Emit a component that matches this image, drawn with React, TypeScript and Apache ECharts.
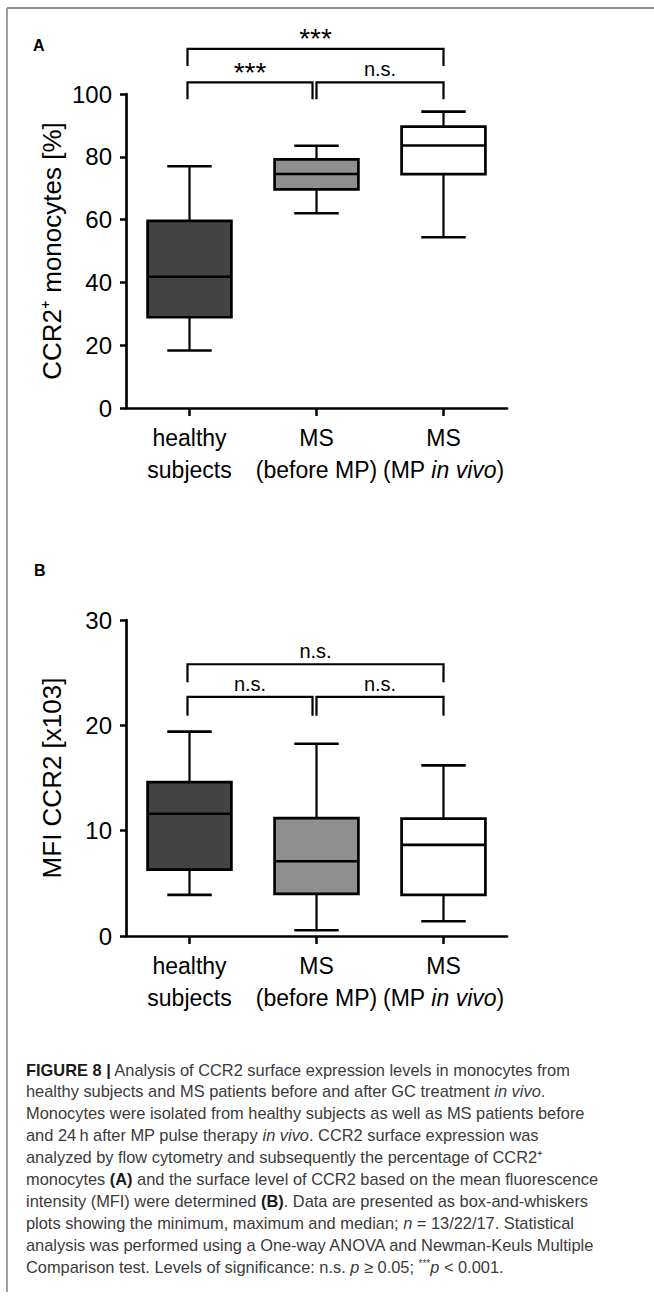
import React, { useEffect, useRef } from "react";
import * as echarts from "echarts";

// ---------- data ----------
const categories = ["healthy\nsubjects", "MS\n(before MP)", "MS\n(MP {i|in vivo})"];
const boxFills = ["#434343", "#8f8f8f", "#ffffff"];

// [min, Q1, median, Q3, max]
const pctHealthy = [18.3, 28.9, 41.8, 59.6, 77.0];
const pctBeforeMP = [62.0, 69.6, 74.5, 79.2, 83.5];
const pctMPinVivo = [54.4, 74.5, 83.6, 89.6, 94.4];

const mfiHealthy = [3.9, 6.3, 11.6, 14.6, 19.4];
const mfiBeforeMP = [0.55, 4.0, 7.1, 11.2, 18.25];
const mfiMPinVivo = [1.4, 3.9, 8.65, 11.15, 16.2];

const pctTicks = { min: 0, max: 100, interval: 20 };
const mfiTicks = { min: 0, max: 30, interval: 10 };

// brackets: [fromCategory, toCategory, barLevel, footLevel]
const pctBrackets = [
  [0, 1, 103.7, 98.3],
  [1, 2, 103.7, 98.3],
  [0, 2, 114.4, 108.9],
];
const pctBracketLabels = ["***", "n.s.", "***"];
const mfiBrackets = [
  [0, 1, 22.7, 20.9],
  [1, 2, 22.7, 20.9],
  [0, 2, 25.8, 24.1],
];
const mfiBracketLabels = ["n.s.", "n.s.", "n.s."];

const captionLines = [
  "{b|FIGURE 8 |} Analysis of CCR2 surface expression levels in monocytes from",
  "healthy subjects and MS patients before and after GC treatment {i|in vivo}.",
  "Monocytes were isolated from healthy subjects as well as MS patients before",
  "and 24\u2009h after MP pulse therapy {i|in vivo}. CCR2 surface expression was",
  "analyzed by flow cytometry and subsequently the percentage of CCR2\u207A",
  "monocytes {b|(A)} and the surface level of CCR2 based on the mean fluorescence",
  "intensity (MFI) were determined {b|(B)}. Data are presented as box-and-whiskers",
  "plots showing the minimum, maximum and median; {i|n} = 13/22/17. Statistical",
  "analysis was performed using a One-way ANOVA and Newman-Keuls Multiple",
  "Comparison test. Levels of significance: n.s. {i|p} \u2265 0.05; {s|***}{i|p} < 0.001.",
];

// ---------- styling ----------
const FONT = "'Liberation Sans', Arial, sans-serif";
const CAP_SIZE = 16.4;

function boxRender(fills: string[]) {
  return (params: any, api: any) => {
    const i = api.value(0);
    const c = (v: number) => api.coord([i, v]);
    const [cx, yMin] = c(api.value(1));
    const yQ1 = c(api.value(2))[1];
    const yMed = c(api.value(3))[1];
    const yQ3 = c(api.value(4))[1];
    const yMax = c(api.value(5))[1];
    const band = api.size([1, 0])[0];
    const bw = band * 0.66;
    const cw = band * 0.35;
    const ln = { stroke: "#000", lineWidth: 2.6 };
    return {
      type: "group",
      children: [
        { type: "line", shape: { x1: cx, y1: yQ3, x2: cx, y2: yMax }, style: { stroke: "#000", lineWidth: 2.2 } },
        { type: "line", shape: { x1: cx, y1: yQ1, x2: cx, y2: yMin }, style: { stroke: "#000", lineWidth: 2.2 } },
        { type: "line", shape: { x1: cx - cw / 2, y1: yMax, x2: cx + cw / 2, y2: yMax }, style: ln },
        { type: "line", shape: { x1: cx - cw / 2, y1: yMin, x2: cx + cw / 2, y2: yMin }, style: ln },
        {
          type: "rect",
          shape: { x: cx - bw / 2, y: yQ3, width: bw, height: yQ1 - yQ3 },
          style: { fill: fills[params.dataIndex], stroke: "#000", lineWidth: 2.7 },
        },
        { type: "line", shape: { x1: cx - bw / 2, y1: yMed, x2: cx + bw / 2, y2: yMed }, style: ln },
      ],
    };
  };
}

function bracketRender(labels: string[]) {
  return (params: any, api: any) => {
    const i0 = api.value(0);
    const i1 = api.value(1);
    const yTop = api.coord([i0, api.value(2)])[1];
    const yFoot = api.coord([i0, api.value(3)])[1];
    let x0 = api.coord([i0, 0])[0];
    let x1 = api.coord([i1, 0])[0];
    if (i0 === 0) x0 -= 2;
    if (i1 === 1) x1 -= 4;
    const label = labels[params.dataIndex];
    const star = label === "***";
    return {
      type: "group",
      children: [
        {
          type: "polyline",
          shape: { points: [[x0, yFoot], [x0, yTop], [x1, yTop], [x1, yFoot]] },
          style: { stroke: "#000", lineWidth: 2.2, fill: null },
        },
        {
          type: "text",
          style: {
            text: label,
            x: (x0 + x1) / 2,
            y: star ? yTop - 10 : yTop - 13,
            align: "center",
            verticalAlign: "middle",
            fontSize: star ? 28 : 20,
            fontFamily: FONT,
            fill: "#000",
          },
        },
      ],
    };
  };
}

function boxData(groups: number[][]) {
  return groups.map((g, i) => [i, ...g]);
}

export default function App() {
  const ref = useRef<HTMLDivElement>(null);
  useEffect(() => {
    if (!ref.current) return;
    const chart = echarts.init(ref.current, undefined, { renderer: "svg" });

    const xAxisBase = (gridIndex: number) => ({
      type: "category",
      gridIndex,
      data: categories,
      boundaryGap: true,
      axisLine: { show: true, lineStyle: { color: "#000", width: 2.7 } },
      axisTick: { show: true, alignWithLabel: true, length: 8, lineStyle: { color: "#000", width: 2.5 } },
      axisLabel: {
        interval: 0,
        color: "#000",
        fontSize: 23,
        lineHeight: 32,
        margin: 14,
        fontFamily: FONT,
        rich: { i: { fontStyle: "italic", fontSize: 23, lineHeight: 32, fontFamily: FONT, color: "#000" } },
      },
      splitLine: { show: false },
    });

    const yAxisBase = (gridIndex: number, ticks: any, name: string) => ({
      type: "value",
      gridIndex,
      min: ticks.min,
      max: ticks.max,
      interval: ticks.interval,
      name,
      nameLocation: "middle",
      nameGap: 61,
      nameMoveOverlap: false,
      nameTextStyle: { fontSize: 26, color: "#000", fontFamily: FONT },
      axisLine: { show: true, lineStyle: { color: "#000", width: 2.7 } },
      axisTick: { show: true, length: 6, lineStyle: { color: "#000", width: 2.5 } },
      axisLabel: { color: "#000", fontSize: 24, margin: 14, fontFamily: FONT },
      splitLine: { show: false },
    });

    const captionGraphics = captionLines.map((t, k) => ({
      type: "text",
      left: 26,
      top: 1071 + k * 21.9 - 9.5,
      style: {
        text: t,
        fontSize: CAP_SIZE,
        fontFamily: FONT,
        fill: "#3a3a3a",
        rich: {
          b: { fontWeight: "bold", fontSize: CAP_SIZE, fontFamily: FONT, fill: "#1a1a1a" },
          i: { fontStyle: "italic", fontSize: CAP_SIZE, fontFamily: FONT, fill: "#3a3a3a" },
          s: { fontSize: 10, fontFamily: FONT, fill: "#3a3a3a", verticalAlign: "top" },
        },
      },
    }));

    chart.setOption({
      animation: false,
      backgroundColor: "#ffffff",
      textStyle: { fontFamily: FONT },
      grid: [
        { left: 126, top: 94, width: 381, height: 314 },
        { left: 126, top: 620, width: 381, height: 316 },
      ],
      xAxis: [xAxisBase(0), xAxisBase(1)],
      yAxis: [
        yAxisBase(0, pctTicks, "CCR2\u207A monocytes [%]"),
        yAxisBase(1, mfiTicks, "MFI CCR2 [x103]"),
      ],
      series: [
        {
          type: "custom",
          xAxisIndex: 0,
          yAxisIndex: 0,
          renderItem: boxRender(boxFills),
          encode: { x: 0, y: [1, 2, 3, 4, 5] },
          data: boxData([pctHealthy, pctBeforeMP, pctMPinVivo]),
          z: 3,
        },
        {
          type: "custom",
          xAxisIndex: 1,
          yAxisIndex: 1,
          renderItem: boxRender(boxFills),
          encode: { x: 0, y: [1, 2, 3, 4, 5] },
          data: boxData([mfiHealthy, mfiBeforeMP, mfiMPinVivo]),
          z: 3,
        },
        {
          type: "custom",
          xAxisIndex: 0,
          yAxisIndex: 0,
          clip: false,
          renderItem: bracketRender(pctBracketLabels),
          encode: { x: [0, 1], y: [2, 3] },
          data: pctBrackets,
        },
        {
          type: "custom",
          xAxisIndex: 1,
          yAxisIndex: 1,
          clip: false,
          renderItem: bracketRender(mfiBracketLabels),
          encode: { x: [0, 1], y: [2, 3] },
          data: mfiBrackets,
        },
      ],
      graphic: [
        { type: "line", shape: { x1: 7, y1: 8, x2: 654, y2: 8 }, style: { stroke: "#6e6e6e", lineWidth: 1.6 } },
        { type: "line", shape: { x1: 7, y1: 8, x2: 7, y2: 1292 }, style: { stroke: "#8a8a8a", lineWidth: 1.6 } },
        {
          type: "text",
          left: 33,
          top: 37,
          style: { text: "A", fontSize: 16, fontWeight: "bold", fontFamily: FONT, fill: "#000" },
        },
        {
          type: "text",
          left: 34,
          top: 562,
          style: { text: "B", fontSize: 16, fontWeight: "bold", fontFamily: FONT, fill: "#000" },
        },
        ...captionGraphics,
      ],
    });
    return () => chart.dispose();
  }, []);

  return (
    <div
      ref={ref}
      style={{ position: "absolute", left: 0, top: 0, width: 654, height: 1300, background: "#fff" }}
    />
  );
}
